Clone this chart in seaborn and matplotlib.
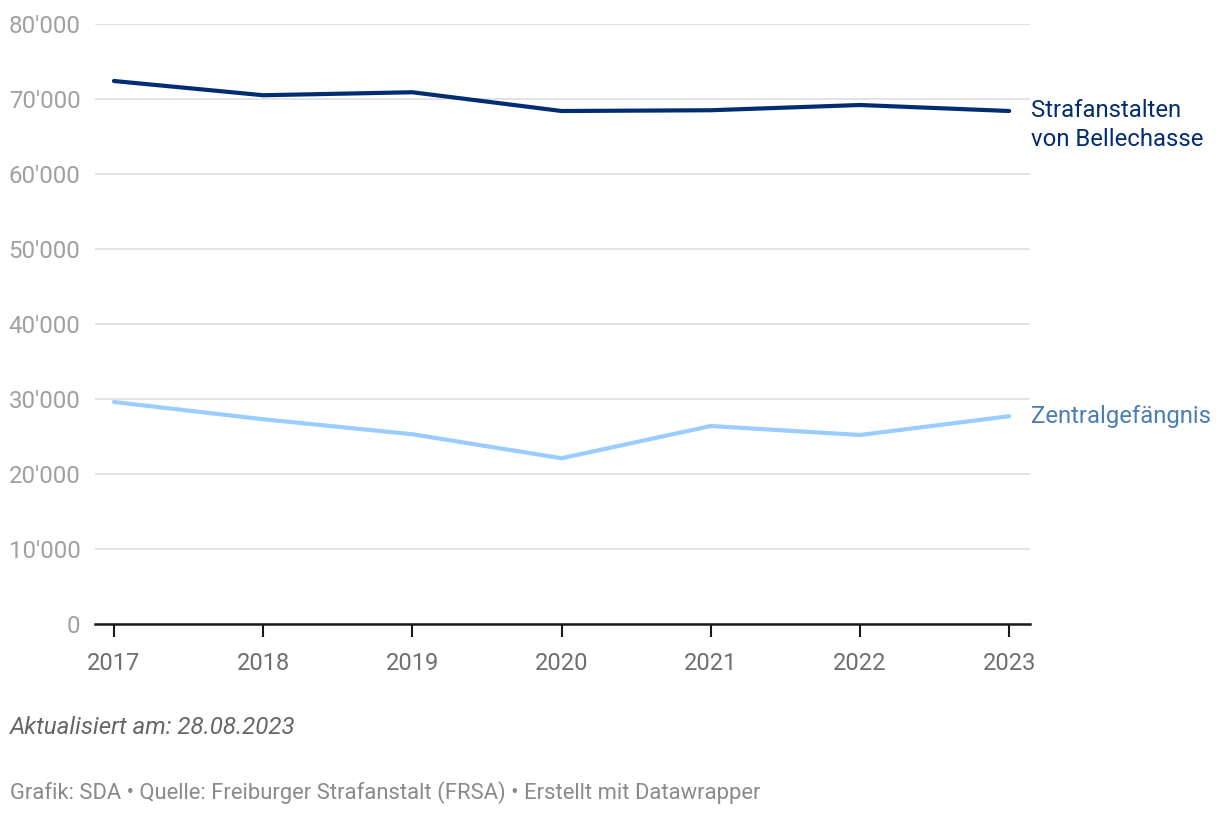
import pandas as pd
import numpy as np
import matplotlib
matplotlib.use('Agg')
import matplotlib.pyplot as plt
import seaborn as sns
from matplotlib.ticker import FuncFormatter

# Data
years = [2017, 2018, 2019, 2020, 2021, 2022, 2023]
bellechasse = [72400, 70500, 70900, 68400, 68500, 69200, 68400]
zentral = [29600, 27300, 25300, 22100, 26400, 25200, 27700]
series_names = ['Strafanstalten\nvon Bellechasse', 'Zentralgefängnis']
y_ticks = [0, 10000, 20000, 30000, 40000, 50000, 60000, 70000, 80000]

df = pd.DataFrame({
    'year': years * 2,
    'value': bellechasse + zentral,
    'series': [series_names[0]] * len(years) + [series_names[1]] * len(years),
})

sns.set_theme(style='white')
plt.rcParams['font.family'] = ['Roboto', 'DejaVu Sans']

line_colors = {series_names[0]: '#002d72', series_names[1]: '#99ccff'}
label_colors = {series_names[0]: '#002d72', series_names[1]: '#4a7db3'}

fig = plt.figure(figsize=(12.2, 8.16), dpi=100)
ax = fig.add_axes([95 / 1220, 1 - 624 / 816, (1030 - 95) / 1220, 600 / 816])

sns.lineplot(data=df, x='year', y='value', hue='series', palette=line_colors,
             linewidth=3.0, legend=False, ax=ax)
for line in ax.lines:
    line.set_solid_capstyle('round')
    line.set_clip_on(False)

ax.set_xlim(2016.873, 2023.14)
ax.set_ylim(0, 80000)
ax.set_yticks(y_ticks)
ax.yaxis.set_major_formatter(FuncFormatter(lambda v, p: f'{int(v):,}'.replace(',', "'")))
ax.set_xticks(years)
ax.grid(axis='y', color='#e3e3e3', linewidth=1.4)
ax.grid(axis='x', visible=False)
for side in ['top', 'right', 'left']:
    ax.spines[side].set_visible(False)
ax.spines['bottom'].set_color('#1a1a1a')
ax.spines['bottom'].set_linewidth(1.8)
ax.tick_params(axis='y', length=0, pad=10.5, labelsize=17.3, labelcolor='#a0a0a0')
ax.tick_params(axis='x', length=9, width=1.5, color='#1a1a1a', direction='out',
               pad=11, labelsize=17, labelcolor='#6e6e6e', bottom=True)
ax.set_xlabel('')
ax.set_ylabel('')

# Line-end labels
ax.annotate(series_names[0], xy=(years[-1], bellechasse[-1]), xytext=(16, -10.4),
            textcoords='offset points', va='center', ha='left', fontsize=17.2,
            color=label_colors[series_names[0]], linespacing=1.33, annotation_clip=False)
ax.annotate(series_names[1], xy=(years[-1], zentral[-1]), xytext=(16, 0),
            textcoords='offset points', va='center', ha='left', fontsize=17.2,
            color=label_colors[series_names[1]], annotation_clip=False)

# Footer
fig.text(10 / 1220, 1 - 728 / 816, 'Aktualisiert am: 28.08.2023', fontsize=17.4,
         style='italic', color='#666666', va='center', ha='left')
fig.text(10 / 1220, 1 - 793 / 816,
         'Grafik: SDA • Quelle: Freiburger Strafanstalt (FRSA) • Erstellt mit Datawrapper',
         fontsize=15.8, color='#8a8a8a', va='center', ha='left')

fig.savefig('out.png', dpi=100)
